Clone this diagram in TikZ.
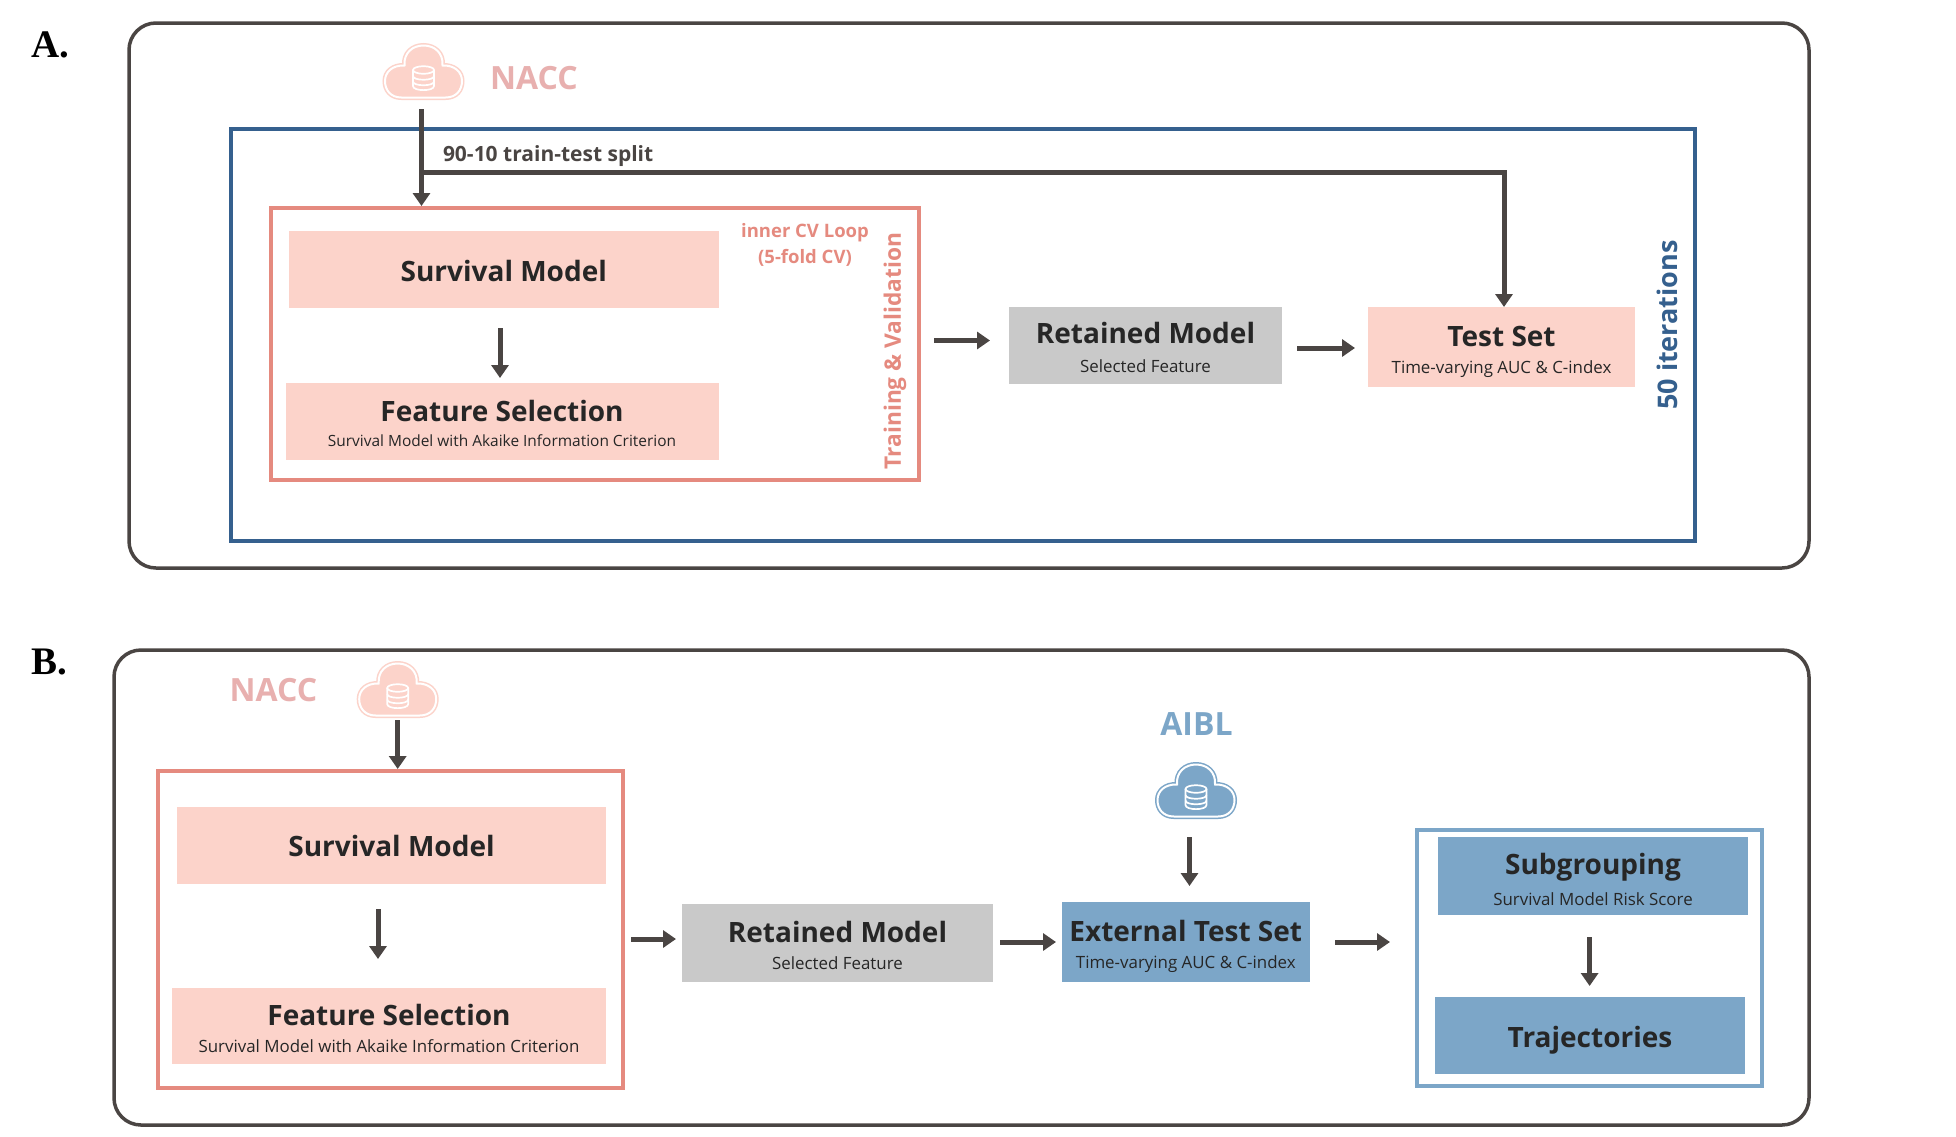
\documentclass[tikz,border=0pt]{standalone}
\usepackage{fontspec}
\setmainfont{Open Sans}
\newfontfamily\serifbold{Liberation Serif}[Scale=1]
\usetikzlibrary{arrows.meta,calc}
\definecolor{inkc}{HTML}{4A4543}
\definecolor{textc}{HTML}{262626}
\definecolor{pinkc}{HTML}{FCD3CA}
\definecolor{redc}{HTML}{E58A7F}
\definecolor{navyc}{HTML}{35608E}
\definecolor{skyc}{HTML}{7CA6C8}
\definecolor{greyc}{HTML}{C9C9C9}
\definecolor{naccc}{HTML}{E8B0AF}
\newcommand{\bigt}[2][0]{{\fontsize{28}{34}\selectfont\bfseries\rule{0pt}{#1pt}#2}}
\newcommand{\subt}[2][16.9]{{\fontsize{#1}{20}\selectfont #2}}
% corners: style, x0, y0, x1, y1, name, text
\newcommand{\bx}[7]{\node[#1,minimum width={#4-#2},minimum height={#5-#3}] (#6) at ({(#2+#4)/2},{(#3+#5)/2}) {#7};}
\newcommand{\cloudpath}{(-22,54.5) .. controls (-33,54.5) and (-38.5,47) .. (-38.5,38) .. controls (-38.5,29) and (-31,22) .. (-19,22.5) .. controls (-20,10) and (-11,2.5) .. (0,2.5) .. controls (11,2.5) and (20,10) .. (19,22.5) .. controls (31,22) and (38.5,29) .. (38.5,38) .. controls (38.5,47) and (33,54.5) .. (22,54.5) -- cycle}
\newcommand{\cloudicon}[3]{%
\begin{scope}[shift={(#1,#2)}]
\draw[#3,fill=#3,line width=5pt] \cloudpath;
\draw[white,line width=2pt] \cloudpath;
\draw[white,line width=1.7pt] (0,27) ellipse [x radius=10.5,y radius=3.8];
\draw[white,line width=1.7pt] (-10.5,27) -- (-10.5,43) .. controls (-10.5,48.5) and (10.5,48.5) .. (10.5,43) -- (10.5,27);
\draw[white,line width=1.7pt] (-10.5,33) .. controls (-10.5,38) and (10.5,38) .. (10.5,33);
\draw[white,line width=1.7pt] (-10.5,38.5) .. controls (-10.5,43.5) and (10.5,43.5) .. (10.5,38.5);
\end{scope}}
\tikzset{
 base/.style={inner sep=0pt,outer sep=0pt,align=center,text=textc},
 panel/.style={base,draw=inkc,line width=3.5pt,rounded corners=27pt},
 frameR/.style={base,draw=redc,line width=4pt},
 frameN/.style={base,draw=navyc,line width=4pt},
 frameS/.style={base,draw=skyc,line width=4pt},
 pinkbox/.style={base,fill=pinkc},
 greybox/.style={base,fill=greyc},
 skybox/.style={base,fill=skyc},
 arr/.style={draw=inkc,line width=5pt,-{Triangle[length=13pt,width=17pt]}},
 lab/.style={inner sep=0pt,outer sep=0pt,align=center},
 panellab/.style={lab,anchor=base west,text=black,font=\serifbold\bfseries\fontsize{39}{39}\selectfont},
 src/.style={lab,font=\bfseries\fontsize{32}{32}\selectfont},
}
\begin{document}
\begin{tikzpicture}[x=1pt,y=-1pt]
\useasboundingbox (0,0) rectangle (1956,1136);
\fill[white] (0,0) rectangle (1956,1136);
% ---------- panel A
\node[panellab] (labA) at (31,57) {A.};
\bx{panel}{129}{23}{1809}{568}{outerA}{}
\bx{frameN}{230.5}{129}{1695}{541}{iterA}{}
\bx{frameR}{271}{208}{919}{480}{cvA}{}
\cloudicon{423.5}{43}{pinkc}
\coordinate (cloudA) at (421.5,109);
\coordinate (turnA) at (421.5,172.7);
\node[src,text=naccc] (naccA) at (534,78) {NACC};
\bx{pinkbox}{289}{231}{718.5}{308}{survA}{\bigt[24]{Survival Model}}
\bx{pinkbox}{285.5}{383}{718.5}{460}{featA}{\bigt[26]{Feature Selection}\\[12pt]\subt[15.45]{Survival Model with Akaike Information Criterion}}
\bx{greybox}{1009}{307}{1282}{384}{retA}{\bigt[26]{Retained Model}\\[15pt]\subt{Selected Feature}}
\bx{pinkbox}{1368}{307}{1635}{387}{testA}{\bigt[30]{Test Set}\\[13pt]\subt{Time-varying AUC \& C-index}}
\node[lab,anchor=west,text=inkc,font=\bfseries\fontsize{21}{21}\selectfont] (splitA) at (443,156) {90-10 train-test split};
\node[lab,text=redc,font=\bfseries\fontsize{18.5}{26}\selectfont] (innerA) at (805,245) {inner CV Loop\\(5-fold CV)};
\node[lab,rotate=90,text=redc,font=\bfseries\fontsize{22.7}{22.7}\selectfont] (trainA) at (895,351) {Training \& Validation};
\node[lab,rotate=90,text=navyc,font=\bfseries\fontsize{27}{27}\selectfont] (iterlab) at (1667,325) {50 iterations};
\draw[arr] (cloudA) -- ([yshift=2pt]cvA.north -| cloudA);
\draw[arr] (turnA) -| ([xshift=2.5pt]testA.north);
\draw[arr] ([shift={(-3.75,20)}]survA.south) -- ([shift={(-2,-5)}]featA.north);
\draw[arr] ([shift={(15,-3.5)}]cvA.east) -- ([shift={(-19,-5)}]retA.west);
\draw[arr] ([shift={(15,2.5)}]retA.east) -- ([shift={(-13,1)}]testA.west);
% ---------- panel B
\node[panellab] (labB) at (31,674) {B.};
\bx{panel}{114}{650}{1809}{1125}{outerB}{}
\bx{frameR}{158}{771}{623}{1088}{cvB}{}
\cloudicon{397.7}{661}{pinkc}
\coordinate (cloudB) at (397.7,720);
\node[src,text=naccc] (naccB) at (273.5,690) {NACC};
\bx{pinkbox}{177}{807}{606}{884}{survB}{\bigt[23]{Survival Model}}
\bx{pinkbox}{172}{988}{606}{1064}{featB}{\bigt[26]{Feature Selection}\\[13pt]\subt{Survival Model with Akaike Information Criterion}}
\bx{greybox}{682}{904}{993}{982}{retB}{\bigt[26]{Retained Model}\\[13pt]\subt{Selected Feature}}
\bx{skybox}{1061.5}{902}{1310}{982}{extB}{\bigt[30]{External Test Set}\\[13pt]\subt{Time-varying AUC \& C-index}}
\cloudicon{1196}{762}{skyc}
\coordinate (cloudC) at (1189.5,837);
\node[src,text=skyc] (aibl) at (1196.5,724) {AIBL};
\bx{frameS}{1417}{830}{1762}{1086}{trajframe}{}
\bx{skybox}{1438}{837}{1748}{915}{subB}{\bigt[28]{Subgrouping}\\[10pt]\subt{Survival Model Risk Score}}
\bx{skybox}{1435}{997}{1745}{1074}{trajB}{\bigt[31]{Trajectories}}
\draw[arr] (cloudB) -- ([yshift=2pt]cvB.north -| cloudB);
\draw[arr] ([shift={(-13.5,25)}]survB.south) -- ([shift={(-11,-29)}]featB.north);
\draw[arr] ([shift={(8,9.5)}]cvB.east) -- ([shift={(-6,-4)}]retB.west);
\draw[arr] ([shift={(7,-1)}]retB.east) -- ([shift={(-5.5,0)}]extB.west);
\draw[arr] (cloudC) -- ([yshift=16pt]extB.north -| cloudC);
\draw[arr] ([shift={(25,0)}]extB.east) -- ([xshift=-27pt]trajframe.west |- extB.east);
\draw[arr] ([shift={(-3.4,22)}]subB.south) -- ([shift={(-0.4,-11)}]trajB.north);
\end{tikzpicture}
\end{document}
